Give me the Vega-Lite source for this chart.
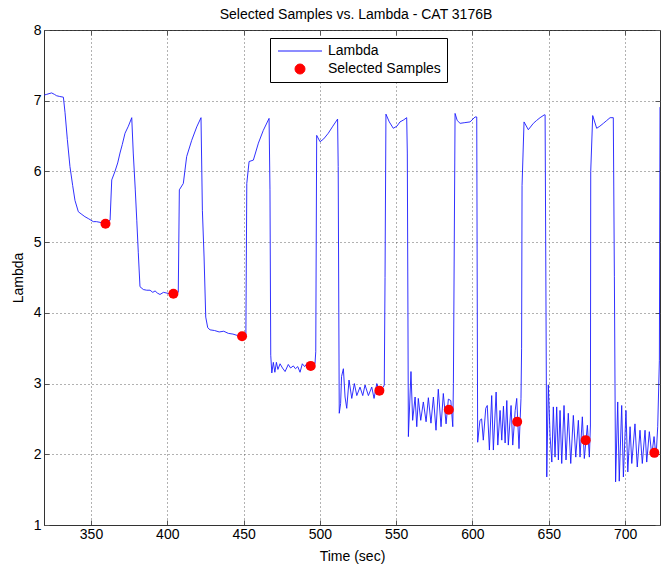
{
  "$schema": "https://vega.github.io/schema/vega-lite/v6.json",
  "width": 616,
  "height": 495,
  "autosize": {"type": "none"},
  "padding": {"left": 44, "top": 30, "right": 1, "bottom": 42},
  "background": "#ffffff",
  "title": {"text": "Selected Samples vs. Lambda - CAT 3176B", "font": "Liberation Sans", "fontSize": 14, "fontWeight": "normal", "color": "#000000", "anchor": "middle", "offset": 1, "dx": 4},
  "config": {
    "view": {"stroke": "#333333", "strokeWidth": 1},
    "font": "Liberation Sans",
    "axis": {
      "labelFont": "Liberation Sans", "labelFontSize": 14, "labelColor": "#000000",
      "titleFont": "Liberation Sans", "titleFontSize": 14, "titleFontWeight": "normal", "titleColor": "#000000",
      "domainColor": "#333333", "tickColor": "#555555", "tickSize": -5,
      "gridColor": "#555555", "gridDash": [1, 3], "gridOpacity": 0.9, "gridWidth": 1
    }
  },
  "datasets": {
    "lambda": [
      {"t": 319.3, "v": 7.08}, {"t": 321, "v": 7.09}, {"t": 322.5, "v": 7.1}, {"t": 324.2, "v": 7.11}, {"t": 326, "v": 7.09},
      {"t": 327.5, "v": 7.07}, {"t": 329.5, "v": 7.06}, {"t": 331.9, "v": 7.05}, {"t": 333, "v": 6.83}, {"t": 334.5, "v": 6.45},
      {"t": 336.2, "v": 6.07}, {"t": 338, "v": 5.8}, {"t": 339.5, "v": 5.59}, {"t": 341.7, "v": 5.43}, {"t": 343.5, "v": 5.4},
      {"t": 346, "v": 5.36}, {"t": 348.5, "v": 5.33}, {"t": 351.5, "v": 5.29}, {"t": 353.5, "v": 5.29}, {"t": 355.9, "v": 5.28},
      {"t": 359.2, "v": 5.26}, {"t": 362.5, "v": 5.31}, {"t": 363.6, "v": 5.88}, {"t": 365.7, "v": 6.0}, {"t": 367.5, "v": 6.12},
      {"t": 369, "v": 6.26}, {"t": 370.5, "v": 6.38}, {"t": 372.3, "v": 6.54}, {"t": 374.5, "v": 6.64}, {"t": 376.7, "v": 6.76},
      {"t": 377.7, "v": 6.26}, {"t": 379, "v": 5.75}, {"t": 380, "v": 5.31}, {"t": 381, "v": 4.85}, {"t": 382.1, "v": 4.37},
      {"t": 384.3, "v": 4.33}, {"t": 386.5, "v": 4.32}, {"t": 388.7, "v": 4.32}, {"t": 390.5, "v": 4.29}, {"t": 392, "v": 4.31},
      {"t": 393.5, "v": 4.28}, {"t": 395.2, "v": 4.26}, {"t": 397.5, "v": 4.29}, {"t": 399.6, "v": 4.28}, {"t": 401.5, "v": 4.27},
      {"t": 403.9, "v": 4.27}, {"t": 407.2, "v": 4.29}, {"t": 407.9, "v": 5.74}, {"t": 410.5, "v": 5.83}, {"t": 412.7, "v": 6.21},
      {"t": 416, "v": 6.44}, {"t": 419.3, "v": 6.63}, {"t": 422.1, "v": 6.76}, {"t": 423, "v": 5.45}, {"t": 424.1, "v": 4.79},
      {"t": 425.2, "v": 3.94}, {"t": 426.5, "v": 3.79}, {"t": 428, "v": 3.76}, {"t": 431, "v": 3.75}, {"t": 434, "v": 3.73},
      {"t": 437, "v": 3.74}, {"t": 440, "v": 3.71}, {"t": 443, "v": 3.7}, {"t": 446, "v": 3.68}, {"t": 449, "v": 3.67},
      {"t": 451.5, "v": 3.67}, {"t": 452.1, "v": 5.83}, {"t": 453.6, "v": 6.14}, {"t": 456.4, "v": 6.16}, {"t": 459.7, "v": 6.4},
      {"t": 462.9, "v": 6.58}, {"t": 466.7, "v": 6.75}, {"t": 467.3, "v": 5.74}, {"t": 467.8, "v": 3.4}, {"t": 468.5, "v": 3.15},
      {"t": 469.5, "v": 3.3}, {"t": 470.5, "v": 3.16}, {"t": 471.5, "v": 3.3}, {"t": 472.5, "v": 3.2}, {"t": 473.9, "v": 3.28},
      {"t": 475.5, "v": 3.22}, {"t": 477.2, "v": 3.17}, {"t": 479.3, "v": 3.27}, {"t": 480.8, "v": 3.22}, {"t": 482.6, "v": 3.25},
      {"t": 484, "v": 3.21}, {"t": 485.5, "v": 3.24}, {"t": 487, "v": 3.16}, {"t": 488.5, "v": 3.28}, {"t": 490, "v": 3.24},
      {"t": 491.4, "v": 3.28}, {"t": 492.8, "v": 3.25}, {"t": 494, "v": 3.25}, {"t": 495.5, "v": 3.26}, {"t": 496.8, "v": 3.28},
      {"t": 497.3, "v": 3.45}, {"t": 497.9, "v": 6.51}, {"t": 500.1, "v": 6.42}, {"t": 502.5, "v": 6.46}, {"t": 505.5, "v": 6.54},
      {"t": 508.5, "v": 6.64}, {"t": 511.6, "v": 6.74}, {"t": 512, "v": 6.07}, {"t": 512.4, "v": 4.0}, {"t": 512.7, "v": 2.58},
      {"t": 513.6, "v": 2.72}, {"t": 514.2, "v": 3.1}, {"t": 515.4, "v": 3.21}, {"t": 516.5, "v": 2.81}, {"t": 517.6, "v": 2.65},
      {"t": 519.1, "v": 3.05}, {"t": 520.9, "v": 2.79}, {"t": 522.6, "v": 3.0}, {"t": 524.2, "v": 2.83}, {"t": 526.3, "v": 2.95},
      {"t": 528.1, "v": 2.83}, {"t": 529.6, "v": 2.98}, {"t": 531.8, "v": 2.83}, {"t": 534, "v": 2.95}, {"t": 535.5, "v": 2.79},
      {"t": 537.3, "v": 3.0}, {"t": 539, "v": 2.9}, {"t": 541.6, "v": 2.95}, {"t": 542.2, "v": 2.98}, {"t": 542.7, "v": 4.5},
      {"t": 543.3, "v": 6.81}, {"t": 545.5, "v": 6.7}, {"t": 548.1, "v": 6.61}, {"t": 550.5, "v": 6.64}, {"t": 552.5, "v": 6.7},
      {"t": 555, "v": 6.73}, {"t": 556.9, "v": 6.76}, {"t": 557.3, "v": 6.26}, {"t": 557.7, "v": 4.0}, {"t": 558, "v": 2.25},
      {"t": 559.7, "v": 3.17}, {"t": 560.8, "v": 2.48}, {"t": 562.4, "v": 2.81}, {"t": 563.5, "v": 2.39}, {"t": 564.5, "v": 2.79},
      {"t": 566.1, "v": 2.48}, {"t": 567.8, "v": 2.74}, {"t": 569.6, "v": 2.46}, {"t": 571.1, "v": 2.8}, {"t": 572.8, "v": 2.44},
      {"t": 574.4, "v": 2.81}, {"t": 576.1, "v": 2.34}, {"t": 577.6, "v": 2.92}, {"t": 579.4, "v": 2.39}, {"t": 580.9, "v": 2.86},
      {"t": 582.7, "v": 2.43}, {"t": 584.2, "v": 2.78}, {"t": 585.8, "v": 2.76}, {"t": 587.1, "v": 2.39}, {"t": 587.5, "v": 3.0},
      {"t": 588.6, "v": 6.82}, {"t": 590, "v": 6.72}, {"t": 591.9, "v": 6.68}, {"t": 595, "v": 6.69}, {"t": 598.4, "v": 6.7},
      {"t": 601.7, "v": 6.77}, {"t": 602.8, "v": 6.77}, {"t": 603.4, "v": 2.17}, {"t": 604.9, "v": 2.48}, {"t": 606, "v": 2.5},
      {"t": 607.1, "v": 2.2}, {"t": 608.7, "v": 2.65}, {"t": 609.7, "v": 2.69}, {"t": 611.1, "v": 2.06}, {"t": 612.6, "v": 2.83},
      {"t": 613.7, "v": 2.06}, {"t": 615.5, "v": 2.88}, {"t": 616.6, "v": 2.13}, {"t": 618.1, "v": 2.62}, {"t": 619.2, "v": 2.2},
      {"t": 620.3, "v": 2.68}, {"t": 621.4, "v": 2.16}, {"t": 622.5, "v": 2.76}, {"t": 623.5, "v": 2.13}, {"t": 625.3, "v": 2.69},
      {"t": 626.4, "v": 2.13}, {"t": 628, "v": 2.62}, {"t": 629, "v": 2.79}, {"t": 630.5, "v": 2.08}, {"t": 631.8, "v": 2.79},
      {"t": 632.2, "v": 3.5}, {"t": 632.5, "v": 5.8}, {"t": 633.8, "v": 6.7}, {"t": 636.6, "v": 6.59}, {"t": 639.9, "v": 6.68},
      {"t": 642, "v": 6.72}, {"t": 644.3, "v": 6.76}, {"t": 647.1, "v": 6.8}, {"t": 647.6, "v": 6.8}, {"t": 648.2, "v": 4.0},
      {"t": 648.7, "v": 1.68}, {"t": 649.7, "v": 2.98}, {"t": 650.9, "v": 2.25}, {"t": 652, "v": 1.89}, {"t": 653, "v": 2.67},
      {"t": 654.1, "v": 1.96}, {"t": 655.2, "v": 2.67}, {"t": 656.3, "v": 1.92}, {"t": 657.4, "v": 2.62}, {"t": 658.5, "v": 1.87},
      {"t": 660, "v": 2.69}, {"t": 661.3, "v": 1.92}, {"t": 662.8, "v": 2.58}, {"t": 664.4, "v": 1.87}, {"t": 666.1, "v": 2.55},
      {"t": 667.7, "v": 1.96}, {"t": 669.4, "v": 2.48}, {"t": 670.5, "v": 1.96}, {"t": 672, "v": 2.53}, {"t": 673.3, "v": 1.94},
      {"t": 675.3, "v": 2.41}, {"t": 676.6, "v": 1.96}, {"t": 677.3, "v": 2.4}, {"t": 677.5, "v": 6.0}, {"t": 678.8, "v": 6.79},
      {"t": 681.4, "v": 6.61}, {"t": 683.5, "v": 6.64}, {"t": 685.8, "v": 6.68}, {"t": 688, "v": 6.72}, {"t": 690.2, "v": 6.76},
      {"t": 692.3, "v": 6.76}, {"t": 693, "v": 4.51}, {"t": 693.4, "v": 3.0}, {"t": 693.8, "v": 1.61}, {"t": 695.2, "v": 2.74},
      {"t": 696.2, "v": 1.62}, {"t": 697.8, "v": 2.69}, {"t": 698.9, "v": 1.68}, {"t": 700.6, "v": 2.62}, {"t": 701.8, "v": 1.75},
      {"t": 703.3, "v": 2.39}, {"t": 704.4, "v": 1.87}, {"t": 706.5, "v": 2.43}, {"t": 708, "v": 1.82}, {"t": 709.8, "v": 2.34},
      {"t": 711.3, "v": 1.87}, {"t": 713.1, "v": 2.34}, {"t": 714.2, "v": 1.89}, {"t": 715.9, "v": 2.32}, {"t": 717.5, "v": 1.99},
      {"t": 719, "v": 2.25}, {"t": 720.3, "v": 1.96}, {"t": 721.4, "v": 2.39}, {"t": 722.5, "v": 3.33}, {"t": 722.9, "v": 6.91}
    ],
    "samples": [
      {"t": 359.5, "v": 5.26}, {"t": 404, "v": 4.27}, {"t": 449, "v": 3.67}, {"t": 494, "v": 3.25}, {"t": 539, "v": 2.9},
      {"t": 584.5, "v": 2.63}, {"t": 629.3, "v": 2.46}, {"t": 674.2, "v": 2.2}, {"t": 719.2, "v": 2.02}
    ]
  },
  "layer": [
    {
      "data": {"name": "lambda"},
      "mark": {"type": "line", "strokeWidth": 0.9, "clip": true},
      "encoding": {
        "x": {"field": "t", "type": "quantitative", "scale": {"domain": [319.2, 722.9], "nice": false, "zero": false},
              "axis": {"orient": "bottom", "title": "Time (sec)", "values": [350, 400, 450, 500, 550, 600, 650, 700], "grid": true, "labelPadding": 7, "titlePadding": 8}},
        "y": {"field": "v", "type": "quantitative", "scale": {"domain": [1, 8], "nice": false, "zero": false},
              "axis": {"orient": "left", "title": "Lambda", "values": [1, 2, 3, 4, 5, 6, 7, 8], "grid": true, "labelPadding": 8, "titlePadding": 8}},
        "color": {"datum": "Lambda", "type": "nominal",
                  "scale": {"domain": ["Lambda", "Selected Samples"], "range": ["#1a1aff", "#ff0000"]},
                  "legend": {
                    "orient": "none", "legendX": 226, "legendY": 8, "title": null,
                    "strokeColor": "#000000", "fillColor": "#ffffff", "padding": 6,
                    "labelFont": "Liberation Sans", "labelFontSize": 14, "labelColor": "#000000",
                    "symbolSize": 100, "symbolOffset": 17, "labelOffset": 21, "rowPadding": 4,
                    "encode": {"symbols": {"update": {
                      "shape": {"signal": "datum.value === 'Lambda' ? 'M-4.4,0L4.4,0' : 'circle'"},
                      "fill": {"signal": "datum.value === 'Lambda' ? 'transparent' : '#ff0000'"},
                      "stroke": {"signal": "datum.value === 'Lambda' ? '#1a1aff' : 'transparent'"},
                      "strokeWidth": {"value": 1},
                      "opacity": {"value": 1}
                    }}}
                  }}
      }
    },
    {
      "data": {"name": "samples"},
      "mark": {"type": "point", "filled": true, "size": 100, "opacity": 1},
      "encoding": {
        "x": {"field": "t", "type": "quantitative",
              "axis": {"orient": "top", "title": null, "labels": false, "grid": false, "domain": false, "values": [350, 400, 450, 500, 550, 600, 650, 700]}},
        "y": {"field": "v", "type": "quantitative",
              "axis": {"orient": "right", "title": null, "labels": false, "grid": false, "domain": false, "values": [1, 2, 3, 4, 5, 6, 7, 8]}},
        "color": {"datum": "Selected Samples", "type": "nominal"}
      }
    }
  ]
}
